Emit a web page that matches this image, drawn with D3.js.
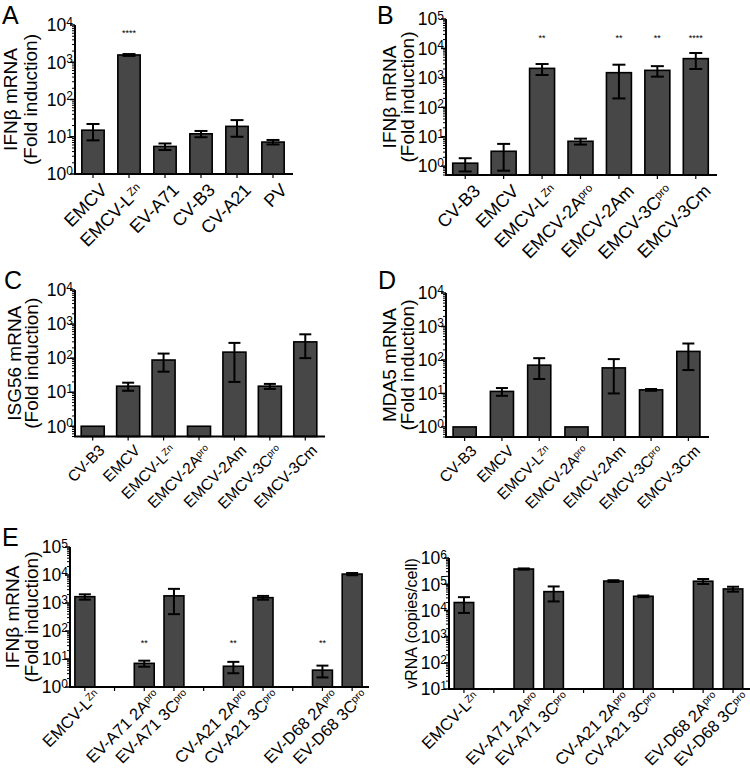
<!DOCTYPE html>
<html><head><meta charset="utf-8">
<script src="https://cdn.jsdelivr.net/npm/d3@7"></script>
<style>body{margin:0;background:#fff}svg{display:block}text{font-family:"Liberation Sans",Arial,sans-serif;fill:#000}</style>
</head><body>
<svg id="fig" width="750" height="769"></svg>
<script>
// ---------- data ----------
const catsA = ["EMCV","EMCV-L^Zn","EV-A71","CV-B3","CV-A21","PV"];
const valsA = [15, 1570, 5.5, 12, 19, 7.2];
const errA  = [7, 90, 1.1, 2.3, 9, 1];
const starsA = ["","****","","","",""];

const catsBCD = ["CV-B3","EMCV","EMCV-L^Zn","EMCV-2A^pro","EMCV-2Am","EMCV-3C^pro","EMCV-3Cm"];
const valsB = [1.26, 3.2, 2100, 7, 1500, 1800, 4500];
const errB  = [0.6, 2.5, 850, 1.6, 1300, 700, 2500];
const starsB = ["","","**","","**","**","****"];
const valsC = [1, 15, 88, 1, 150, 15, 300];
const errC  = [0, 4, 48, 0, 130, 2.5, 200];
const valsD = [1, 11.5, 70, 1, 58, 12.8, 180];
const errD  = [0, 3, 43, 0, 48, 0.8, 130];

const catsE = ["EMCV-L^Zn","","EV-A71 2A^pro","EV-A71 3C^pro","","CV-A21 2A^pro","CV-A21 3C^pro","","EV-D68 2A^pro","EV-D68 3C^pro"];
const valsE1 = [1680, null, 7, 1800, null, 5.5, 1550, null, 4, 10800];
const errE1  = [360, null, 1.7, 1400, null, 2.4, 240, null, 1.8, 1000];
const starsE1 = ["","","**","","","**","","","**",""];
const valsE2 = [20000, null, 380000, 52000, null, 132000, 34600, null, 130000, 66000];
const errE2  = [12000, null, 20000, 30000, null, 10000, 2500, null, 28000, 14000];

const ticksA = [1e0,1e1,1e2,1e3,1e4];
const ticksB = [1e0,1e1,1e2,1e3,1e4,1e5];
const ticksCD = [1e0,1e1,1e2,1e3,1e4];
const ticksE1 = [1e0,1e1,1e2,1e3,1e4,1e5];
const ticksE2 = [1e1,1e2,1e3,1e4,1e5,1e6];

// ---------- drawing ----------
const svg = d3.select("#fig");
const BAR = "#474747";

function richText(sel, label, supSize){
  const parts = label.split("^");
  sel.append("tspan").text(parts[0]);
  if (parts[1] !== undefined) sel.append("tspan").attr("dy","-0.45em").attr("font-size", supSize).text(parts[1]);
}

function panel(p){
  const g = svg.append("g");
  const x = d3.scaleBand().domain(d3.range(p.cats.length)).range(p.xr).paddingInner(p.pad).paddingOuter(p.pad/2);
  const y = d3.scaleLog().domain(p.yd).range(p.yr);
  const x0 = p.xr[0], yb = p.yr[0];

  p.vals.forEach((v,i)=>{
    if (v == null) return;
    g.append("rect").attr("x", x(i)).attr("width", x.bandwidth())
      .attr("y", y(v)).attr("height", yb - y(v))
      .attr("fill", BAR).attr("stroke","#000").attr("stroke-width",1.6);
    const e = p.errs[i];
    if (e > 0){
      const cx = x(i) + x.bandwidth()/2, hi = y(v+e), lo = y(Math.max(v-e, p.yd[0]));
      const cw = p.cap;
      g.append("line").attr("x1",cx).attr("x2",cx).attr("y1",hi).attr("y2",lo).attr("stroke","#000").attr("stroke-width",2);
      g.append("line").attr("x1",cx-cw/2).attr("x2",cx+cw/2).attr("y1",hi).attr("y2",hi).attr("stroke","#000").attr("stroke-width",2);
      g.append("line").attr("x1",cx-cw/2).attr("x2",cx+cw/2).attr("y1",lo).attr("y2",lo).attr("stroke","#000").attr("stroke-width",2);
    }
  });
  if (p.stars) p.stars.forEach((s,i)=>{
    if (!s) return;
    g.append("text").attr("x", x(i)+x.bandwidth()/2).attr("y", p.starY)
      .attr("text-anchor","middle").attr("font-size",9).text(s);
  });

  g.append("line").attr("x1",x0).attr("x2",x0).attr("y1",yb).attr("y2",p.yr[1]).attr("stroke","#000").attr("stroke-width",2);
  const lo = Math.round(Math.log10(p.ticks[0])), hi = Math.round(Math.log10(p.ticks[p.ticks.length-1]));
  for (let d = lo-1; d < hi; d++){
    for (let m = 2; m <= 9; m++){
      const v = m*Math.pow(10,d);
      if (v < p.yd[0] || v > p.yd[1]) continue;
      g.append("line").attr("x1",x0-3).attr("x2",x0).attr("y1",y(v)).attr("y2",y(v)).attr("stroke","#000").attr("stroke-width",1);
    }
  }
  p.ticks.forEach(t=>{
    g.append("line").attr("x1",x0-5).attr("x2",x0).attr("y1",y(t)).attr("y2",y(t)).attr("stroke","#000").attr("stroke-width",1.5);
    const tx = g.append("text").attr("x",x0-2).attr("y",y(t)).attr("dy","0.36em").attr("text-anchor","end").attr("font-size",17.5);
    richText(tx, "10^" + Math.round(Math.log10(t)), 12);
  });

  g.append("line").attr("x1",x0-1).attr("x2",p.xr[1]+2).attr("y1",yb).attr("y2",yb).attr("stroke","#000").attr("stroke-width",2);
  p.cats.forEach((c,i)=>{
    const cx = x(i)+x.bandwidth()/2;
    g.append("line").attr("x1",cx).attr("x2",cx).attr("y1",yb).attr("y2",yb+4).attr("stroke","#000").attr("stroke-width",1.2);
    if (!c) return;
    const t = g.append("text").attr("text-anchor","end").attr("font-size",p.xfs)
      .attr("transform",`translate(${cx+p.lab[0]},${yb+p.lab[1]}) rotate(-45)`).attr("dy","0.72em");
    richText(t, c, p.xfs*0.62);
  });

  const cy = (p.yr[0]+p.yr[1])/2;
  p.title.forEach((line,k)=>{
    g.append("text").attr("text-anchor","middle").attr("font-size",p.tfs)
      .attr("transform",`translate(${p.tx[k]},${cy}) rotate(-90)`).text(line);
  });
  if (p.letter) svg.append("text").attr("x",p.lx).attr("y",p.ly).attr("font-size",25).text(p.letter);
}

panel({cats:catsA, vals:valsA, errs:errA, stars:starsA, starY:36, xr:[75,291], pad:0.38, yd:[1,1e4], yr:[174,25], ticks:ticksA,
  cap:13, xfs:18, lab:[6,8], title:["IFNβ mRNA","(Fold induction)"], tx:[17,37], tfs:19, letter:"A", lx:2, ly:24});
panel({cats:catsBCD, vals:valsB, errs:errB, stars:starsB, starY:41, xr:[446,715], pad:0.35, yd:[0.5,1e5], yr:[175,19], ticks:ticksB,
  cap:13, xfs:18, lab:[7,8], title:["IFNβ mRNA","(Fold induction)"], tx:[396,414], tfs:19, letter:"B", lx:377, ly:24});
panel({cats:catsBCD, vals:valsC, errs:errC, xr:[75,323], pad:0.35, yd:[0.5,1e4], yr:[436.5,290], ticks:ticksCD,
  cap:12, xfs:15.5, lab:[5,7], title:["ISG56 mRNA","(Fold induction)"], tx:[21,38], tfs:19, letter:"C", lx:4, ly:289});
panel({cats:catsBCD, vals:valsD, errs:errD, xr:[446,707], pad:0.38, yd:[0.5,1e4], yr:[437,293], ticks:ticksCD,
  cap:12, xfs:15.5, lab:[5,7], title:["MDA5 mRNA","(Fold induction)"], tx:[396,414], tfs:19, letter:"D", lx:378, ly:289});
panel({cats:catsE, vals:valsE1, errs:errE1, stars:starsE1, starY:646, xr:[70,367], pad:0.33, yd:[1,1e5], yr:[687,547], ticks:ticksE1,
  cap:12, xfs:16.5, lab:[8,1], title:["IFNβ mRNA","(Fold induction)"], tx:[19,38], tfs:19, letter:"E", lx:2, ly:546});
panel({cats:catsE, vals:valsE2, errs:errE2, xr:[449,748], pad:0.35, yd:[10,1e6], yr:[689,558], ticks:ticksE2,
  cap:12, xfs:16.5, lab:[8,1], title:["vRNA (copies/cell)"], tx:[417], tfs:16});
</script>
</body></html>
